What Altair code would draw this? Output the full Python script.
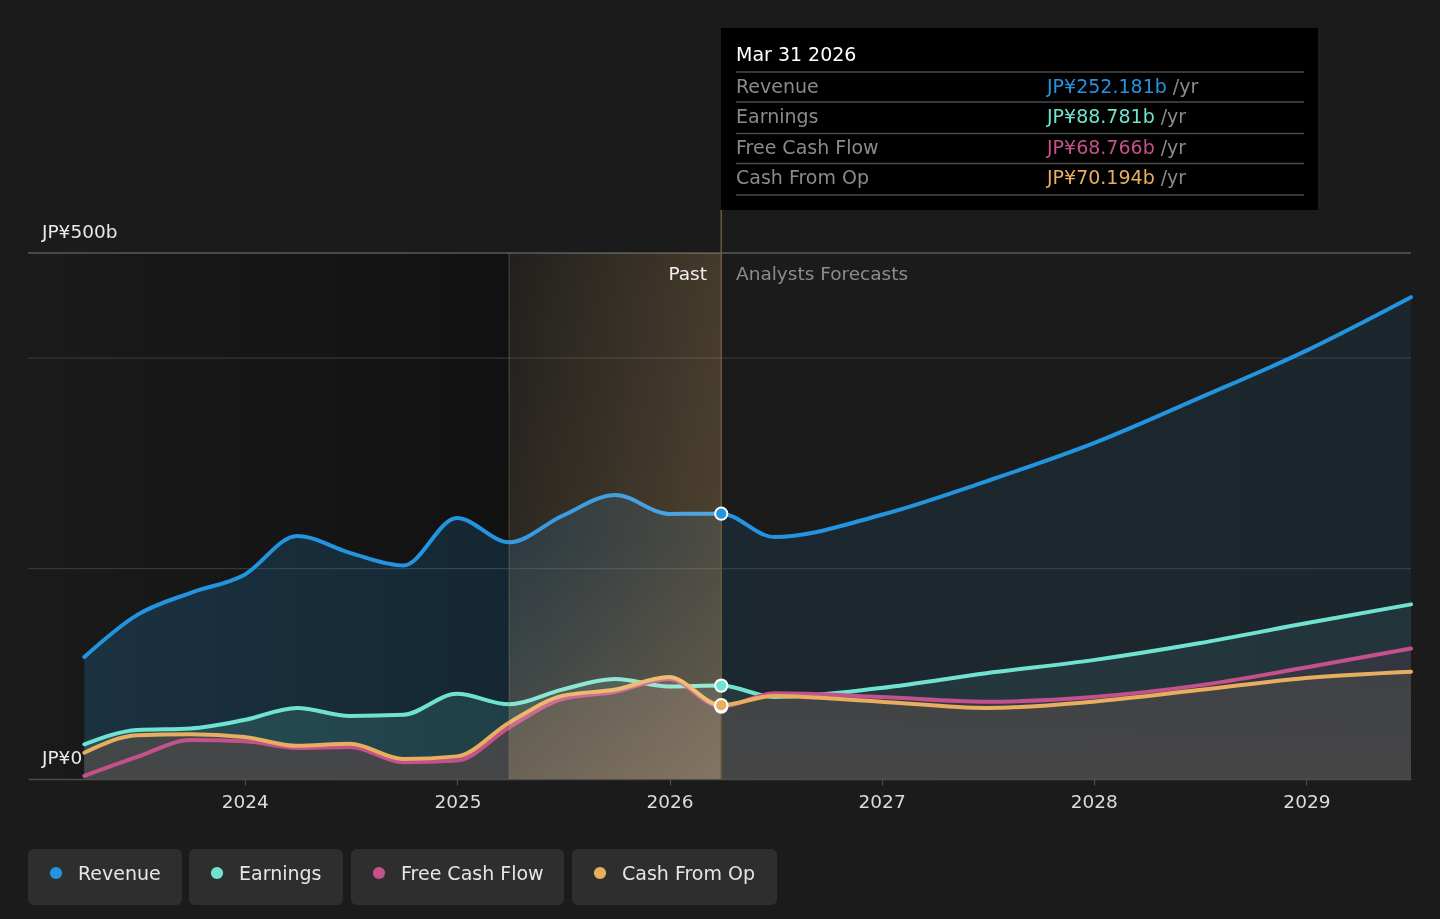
import altair as alt
import pandas as pd
import jinja2

# ---------------- data ----------------
dates = ["2023-03-31", "2023-06-30", "2023-09-30", "2023-12-31", "2024-03-31", "2024-06-30",
         "2024-09-30", "2024-12-31", "2025-03-31", "2025-06-30", "2025-09-30", "2025-12-31",
         "2026-03-31", "2026-06-30", "2026-12-31", "2027-06-30", "2027-12-31", "2028-06-30",
         "2028-12-31", "2029-06-30"]
revenue = [116, 156, 177, 194, 231, 215, 203, 248, 225, 250, 270, 252, 252.181,
           230, 251, 283, 319, 362, 407, 458]
earnings = [33, 46.5, 48, 56, 67.5, 60, 61, 81, 71, 85, 95, 88, 88.781,
            78, 86.5, 100.5, 113, 129, 148, 166]
fcf = [3, 21, 37, 36, 29.5, 30.5, 16, 17.5, 49, 76, 83, 95, 68.766,
       81.5, 78, 73.5, 78, 89, 106, 124]
cfo = [25, 41.5, 42.5, 40, 31.5, 33.5, 19, 21.5, 53.5, 79, 85, 97, 70.194,
       79, 73.5, 67.5, 73.5, 84.5, 96, 102]

series_names = ["Revenue", "Earnings", "Free Cash Flow", "Cash From Op"]
series_cols = ["rev", "earn", "fcf", "cfo"]
series_colors = ["#2394df", "#6fe3d0", "#c4508c", "#e8ae5f"]

past_start = "2025-03-31"
now_date = "2026-03-31"
now_label = "Mar 31 2026"
domain_start = (2022, 12, 24)
domain_end = (2029, 6, 30)
year_ticks = [2024, 2025, 2026, 2027, 2028, 2029]
grid_values = [200, 400]
top_value = 500
y_labels = ["JP¥500b", "JP¥0"]
y_label_values = [500, 0]

df = pd.DataFrame({"date": dates, "rev": revenue, "earn": earnings, "fcf": fcf, "cfo": cfo})
now_idx = dates.index(now_date)

# ---------------- layout constants ----------------
W, H = 1383, 526
FONT = "DejaVu Sans"
one = pd.DataFrame({"k": [0]})

xscale = alt.Scale(type="utc",
                   domain=[alt.DateTime(year=domain_start[0], month=domain_start[1], date=domain_start[2], utc=True),
                           alt.DateTime(year=domain_end[0], month=domain_end[1], date=domain_end[2], utc=True)])
xaxis = alt.Axis(values=[alt.DateTime(year=y, month=1, date=1, utc=True) for y in year_ticks],
                 format="%Y", labelFontSize=18.5, labelColor="#dcdcdc", labelFont=FONT,
                 domainColor="#4d4d4d", domainWidth=1.5, tickColor="#4d4d4d", tickSize=6,
                 tickWidth=1.2, labelPadding=7, grid=False, title=None)
yscale = alt.Scale(domain=[0, 500], nice=False, zero=True)
X = alt.X("date:T", scale=xscale, axis=xaxis, title=None)


def Y(field):
    return alt.Y(f"{field}:Q", scale=yscale, axis=None, title=None)


def hgrad(rgb, alphas):
    return alt.Gradient(gradient="linear", x1=0, x2=1, y1=0, y2=0,
                        stops=[alt.GradientStop(color=f"rgba({rgb},{a})", offset=o) for o, a in alphas])


def vgrad(rgb, alphas):
    return alt.Gradient(gradient="linear", x1=0, x2=0, y1=0, y2=1,
                        stops=[alt.GradientStop(color=f"rgba({rgb},{a})", offset=o) for o, a in alphas])


def txt(s, x, y, color, size=19, align="left"):
    return alt.Chart(one).mark_text(text=s, align=align, baseline="alphabetic", fontSize=size,
                                    color=color, font=FONT).encode(x=alt.value(x), y=alt.value(y))


layers = []

# dark region left of the past window
dark_df = pd.DataFrame({"date": [f"{domain_start[0]}-{domain_start[1]:02d}-{domain_start[2]:02d}"],
                        "date2": [past_start], "top": [top_value], "bot": [0]})
layers.append(alt.Chart(dark_df).mark_rect(color=hgrad("0,0,0", [(0, 0.03), (1, 0.36)])).encode(
    x=X, x2="date2:T", y=Y("top"), y2="bot:Q"))

# grid lines
layers.append(alt.Chart(pd.DataFrame({"g": grid_values})).mark_rule(color="#363636", strokeWidth=1.2).encode(y=Y("g")))
layers.append(alt.Chart(pd.DataFrame({"g": [top_value]})).mark_rule(color="#5a5a5a", strokeWidth=1.5).encode(y=Y("g")))

base = alt.Chart(df)
# areas
layers.append(base.mark_area(interpolate="monotone",
                             color=hgrad("35,148,223", [(0, 0.2), (0.33, 0.16), (0.5, 0.1), (1, 0.09)])).encode(
    x=X, y=Y("rev"), y2=alt.datum(0)))
layers.append(base.mark_area(interpolate="monotone",
                             color=hgrad("111,227,208", [(0, 0.16), (0.33, 0.13), (0.5, 0.09), (1, 0.08)])).encode(
    x=X, y=Y("earn"), y2=alt.datum(0)))
layers.append(base.mark_area(interpolate="monotone", color="rgba(196,80,140,0.10)").encode(
    x=X, y=Y("fcf"), y2=alt.datum(0)))
layers.append(base.mark_area(interpolate="monotone",
                             color=vgrad("70,70,70", [(0, 0.7), (1, 0.95)])).encode(
    x=X, y=Y("cfo"), y2=alt.datum(0)))

# lines (revenue, earnings, fcf, cfo)
for col, c in [("rev", series_colors[0]), ("earn", series_colors[1]), ("fcf", series_colors[2]), ("cfo", series_colors[3])]:
    layers.append(base.mark_line(interpolate="monotone", color=c, strokeWidth=4, strokeCap="round").encode(
        x=X, y=Y(col)))

# past window overlay
past_df = pd.DataFrame({"date": [past_start], "date2": [now_date], "top": [top_value], "bot": [0]})
layers.append(alt.Chart(past_df).mark_rect(blend="screen",
                                           color=hgrad("233,174,95", [(0, 0.03), (1, 0.2)])).encode(
    x=X, x2="date2:T", y=Y("top"), y2="bot:Q"))
layers.append(alt.Chart(past_df).mark_rect(blend="screen",
                                           color=vgrad("233,174,95", [(0, 0.0), (0.55, 0.05), (1, 0.2)])).encode(
    x=X, x2="date2:T", y=Y("top"), y2="bot:Q"))

# vertical lines
layers.append(alt.Chart(pd.DataFrame({"date": [past_start], "top": [top_value], "bot": [0]})).mark_rule(
    color="rgba(160,140,105,0.35)", strokeWidth=1.2).encode(x=X, y=Y("top"), y2="bot:Q"))
layers.append(alt.Chart(pd.DataFrame({"date": [now_date]})).mark_rule(
    color="#6a5a3d", strokeWidth=1.5).encode(x=X, y=alt.value(-43), y2=alt.value(H)))

# dots at the current date
for col, c in [("fcf", series_colors[2]), ("cfo", series_colors[3]), ("earn", series_colors[1]), ("rev", series_colors[0])]:
    d = pd.DataFrame({"date": [now_date], col: [df[col][now_idx]]})
    layers.append(alt.Chart(d).mark_circle(size=150, color=c, opacity=1, stroke="white", strokeWidth=2).encode(
        x=X, y=Y(col)))

# y labels
for lab, v in zip(y_labels, y_label_values):
    layers.append(alt.Chart(pd.DataFrame({"v": [v]})).mark_text(
        text=lab, align="left", baseline="alphabetic", dy=-15, fontSize=18.5, color="#e8e8e8", font=FONT).encode(
        x=alt.value(14), y=Y("v")))

# Past / Analysts Forecasts
layers.append(txt("Past", 679, 27, "#f0f0f0", 18.5, "right"))
layers.append(txt("Analysts Forecasts", 708, 27, "#8c8c8c", 18.5))

# tooltip box
layers.append(alt.Chart(one).mark_rect(color="#000000").encode(
    x=alt.value(693), x2=alt.value(1290), y=alt.value(-225), y2=alt.value(-43)))
layers.append(txt(now_label, 708, -192, "#ffffff", 19))
for py in [-181, -151, -119.5, -89.5, -58]:
    layers.append(alt.Chart(one).mark_rule(color="#4a4a4a", strokeWidth=1.3).encode(
        x=alt.value(708), x2=alt.value(1276), y=alt.value(py), y2=alt.value(py)))

CW = {"J": 0.295, "P": 0.603, "¥": 0.636, ".": 0.318, "b": 0.635, " ": 0.318}


def twidth(s, size):
    return sum(CW.get(ch, 0.636) for ch in s) * size


row_y = [-160.5, -130.5, -99, -69]
for i, (name, col, c) in enumerate(zip(series_names, series_cols, series_colors)):
    val = f"JP¥{df[col][now_idx]:.3f}b"
    layers.append(txt(name, 708, row_y[i], "#8a8a8a", 19))
    layers.append(txt(val, 1019, row_y[i], c, 19))
    layers.append(txt("/yr", 1019 + twidth(val + " ", 19), row_y[i], "#8a8a8a", 19))

# legend pills
pill_x0 = [0, 161, 323, 544]
pill_w = [154, 154, 213, 205]
for name, c, x0, w in zip(series_names, series_colors, pill_x0, pill_w):
    layers.append(alt.Chart(one).mark_rect(color="#2e2e2e", cornerRadius=6).encode(
        x=alt.value(x0), x2=alt.value(x0 + w), y=alt.value(596), y2=alt.value(652)))
    layers.append(alt.Chart(one).mark_circle(size=150, color=c, opacity=1).encode(
        x=alt.value(x0 + 28), y=alt.value(620)))
    layers.append(txt(name, x0 + 50, 627, "#e6e6e6", 19))

chart = alt.layer(*layers).properties(
    width=W, height=H,
    autosize=alt.AutoSizeParams(type="none"),
    padding={"left": 20, "top": 245, "right": 21, "bottom": 132},
    background="#1b1b1b",
).configure(font=FONT).configure_view(stroke=None, strokeWidth=0)

TEMPLATE = jinja2.Template("""<!DOCTYPE html>
<html>
<head>
  <meta charset="utf-8">
  <style>
    html, body { background: #1b1b1b; }
    body { margin: 8px; }
    #{{ output_div }}.vega-embed { width: 100%; display: flex; }
    #{{ output_div }}.vega-embed details,
    #{{ output_div }}.vega-embed details summary { position: relative; }
  </style>
  <script type="text/javascript" src="{{ base_url }}/vega@{{ vega_version }}"></script>
  <script type="text/javascript" src="{{ base_url }}/vega-lite@{{ vegalite_version }}"></script>
  <script type="text/javascript" src="{{ base_url }}/vega-embed@{{ vegaembed_version }}"></script>
</head>
<body>
  <div id="{{ output_div }}"></div>
  <script>
    (function(vegaEmbed) {
      var spec = {{ spec }};
      var embedOpt = {{ embed_options }};
      vegaEmbed("#{{ output_div }}", spec, embedOpt).catch(function(e) { console.error(e); });
    })(vegaEmbed);
  </script>
</body>
</html>
""")

try:
    chart.save("out.html", embed_options={"renderer": "svg", "actions": False}, template=TEMPLATE)
except Exception:
    chart.save("out.html", embed_options={"renderer": "svg", "actions": False})
